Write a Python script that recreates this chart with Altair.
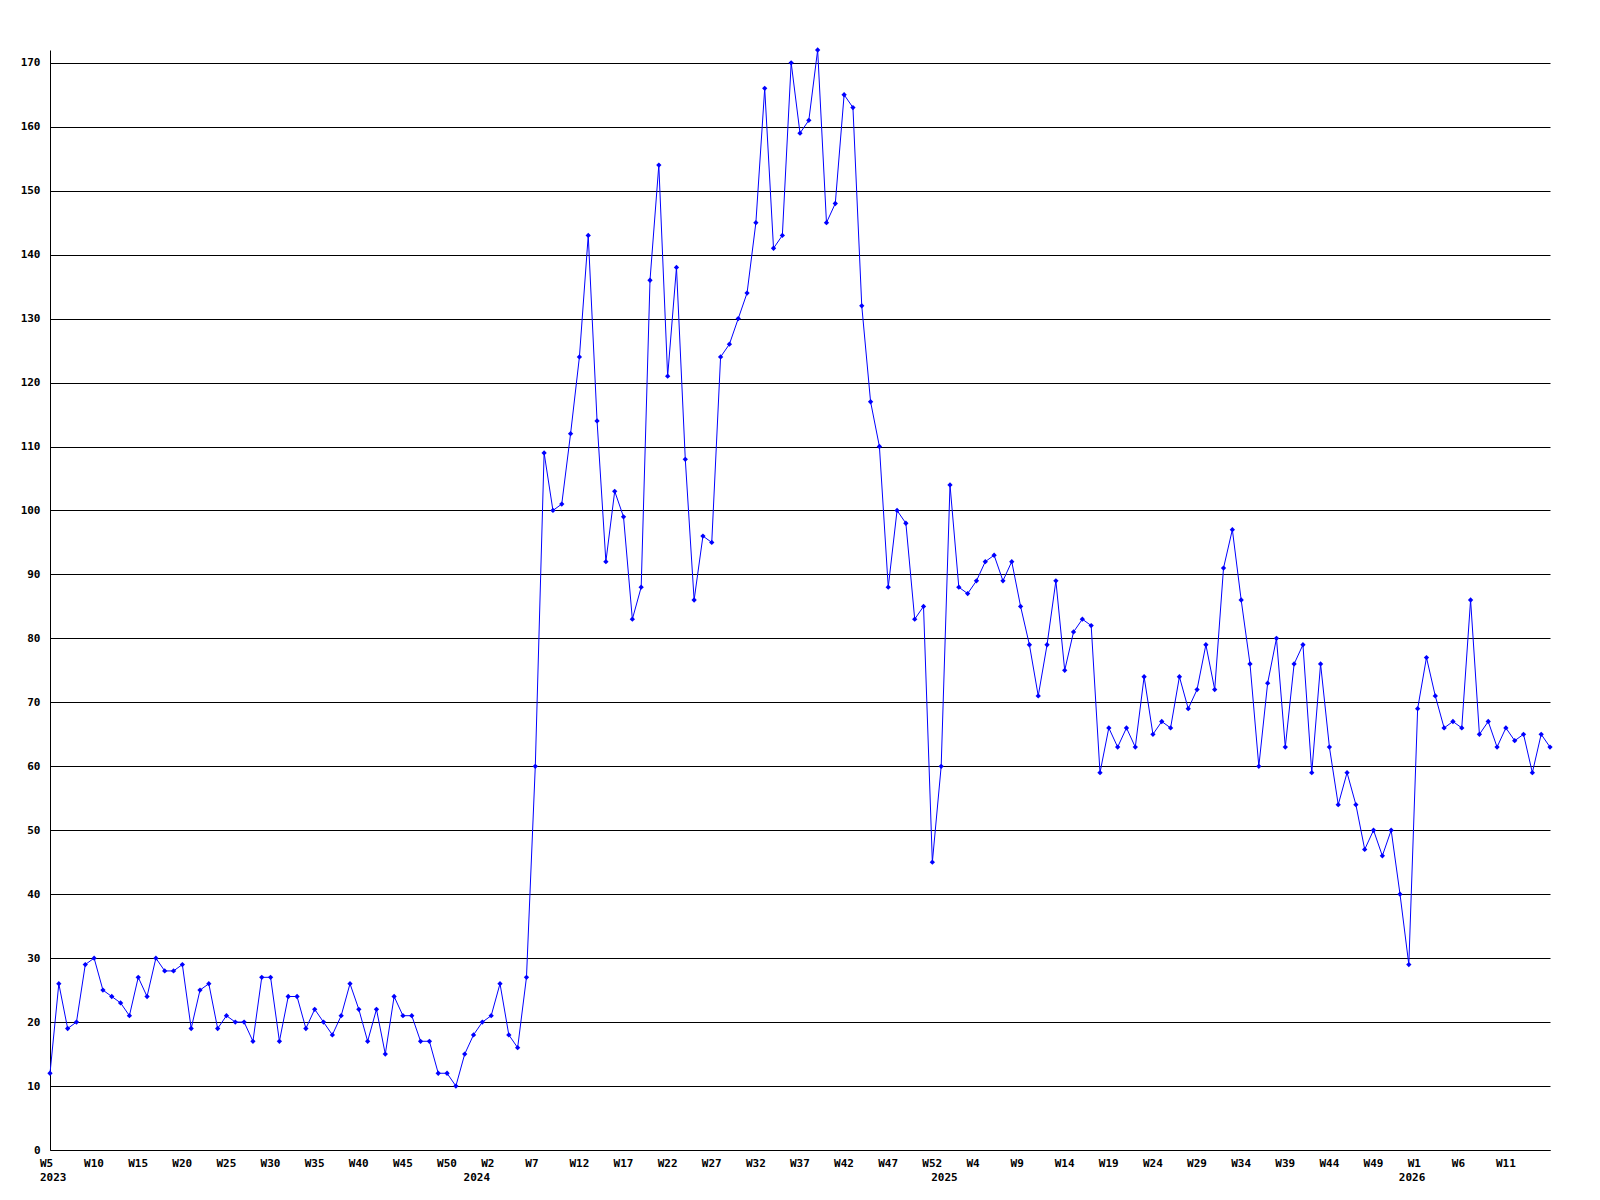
import altair as alt
import pandas as pd

# weekly values, 2023 W5 .. 2026 W16 (one per week, year boundary has a W0 week)
values = [
    12, 26, 19, 20, 29, 30, 25, 24, 23, 21, 27, 24, 30, 28, 28, 29, 19, 25, 26, 19,
    21, 20, 20, 17, 27, 27, 17, 24, 24, 19,
    22, 20, 18, 21, 26, 22, 17, 22, 15, 24, 21, 21, 17, 17, 12, 12, 10, 15, 18, 20,
    21, 26, 18, 16, 27,
    60, 109, 100, 101, 112, 124, 143, 114, 92, 103, 99, 83, 88, 136, 154, 121, 138, 108,
    86, 96, 95, 124, 126, 130, 134, 145,
    166, 141, 143, 170, 159, 161, 172, 145, 148, 165, 163, 132, 117, 110, 88, 100, 98,
    83, 85, 45,
    60, 104, 88, 87, 89, 92, 93, 89, 92, 85, 79, 71, 79, 89, 75, 81, 83, 82, 59,
    66, 63, 66, 63, 74, 65, 67, 66, 74, 69, 72, 79, 72, 91, 97, 86, 76, 60, 73, 80,
    63, 76, 79, 59, 76, 63, 54,
    59, 54, 47, 50, 46, 50, 40, 29, 69, 77, 71, 66, 67, 66, 86, 65, 67, 63, 66, 64,
    65, 59, 65, 63,
]

tick_index = list(range(0, 170, 5))
tick_labels = [
    "W5", "W10", "W15", "W20", "W25", "W30", "W35", "W40", "W45", "W50",
    "W2", "W7", "W12", "W17", "W22", "W27", "W32", "W37", "W42", "W47", "W52",
    "W4", "W9", "W14", "W19", "W24", "W29", "W34", "W39", "W44", "W49",
    "W1", "W6", "W11",
]
year_index = [0, 48, 101, 154]
year_labels = ["2023", "2024", "2025", "2026"]
y_ticks = list(range(0, 171, 10))

df = pd.DataFrame({"i": list(range(len(values))), "v": values})
df_ticks = pd.DataFrame({"i": tick_index, "label": tick_labels})
df_years = pd.DataFrame({"i": year_index, "label": year_labels})

W, H = 1500, 1100
FONT = "DejaVu Sans Mono"

xscale = alt.Scale(domain=[0, len(values) - 1], nice=False, zero=False)
yscale = alt.Scale(domain=[0, 172], nice=False, zero=True)

x_enc = alt.X(
    "i:Q", scale=xscale,
    axis=alt.Axis(title=None, labels=False, ticks=False, grid=False,
                  domainColor="black", domainWidth=1),
)
y_enc = alt.Y(
    "v:Q", scale=yscale,
    axis=alt.Axis(title=None, values=y_ticks, ticks=False, grid=True,
                  gridColor="black", gridWidth=1, gridOpacity=1,
                  domainColor="black", domainWidth=1,
                  labelFont=FONT, labelFontWeight="bold", labelFontSize=11,
                  labelColor="black", labelPadding=10),
)

line = alt.Chart(df).mark_line(color="#0000ff", strokeWidth=1).encode(x=x_enc, y=y_enc)
pts = alt.Chart(df).mark_point(shape="diamond", filled=True, size=28, color="#0000ff",
                               opacity=1).encode(x="i:Q", y="v:Q")

week_text = alt.Chart(df_ticks).mark_text(
    align="left", baseline="middle", dx=-10, font=FONT, fontWeight="bold",
    fontSize=11, color="black",
).encode(x="i:Q", y=alt.value(H + 14), text="label:N")

year_text = alt.Chart(df_years).mark_text(
    align="left", baseline="middle", dx=-10, font=FONT, fontWeight="bold",
    fontSize=11, color="black",
).encode(x="i:Q", y=alt.value(H + 28), text="label:N")

chart = alt.layer(line, pts, week_text, year_text).properties(
    width=W, height=H,
    autosize=alt.AutoSizeParams(type="none"),
    padding={"left": 42, "top": 42, "right": 41, "bottom": 50},
    background="white",
).configure_view(stroke=None)

chart.save("out.html", embed_options={"renderer": "svg", "actions": False})
